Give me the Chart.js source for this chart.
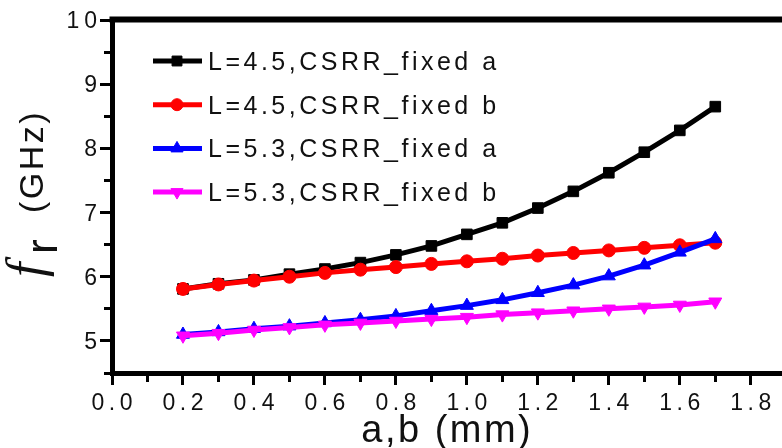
<!DOCTYPE html>
<html>
<head>
<meta charset="utf-8">
<title>fr vs a,b</title>
<script src="https://cdn.jsdelivr.net/npm/chart.js@4.4.0/dist/chart.umd.min.js"></script>
<style>
  html, body { margin: 0; padding: 0; background: #fff; }
  #wrap { width: 782px; height: 448px; }
</style>
</head>
<body>
<div id="wrap"><canvas id="fr-chart" width="782" height="448"></canvas></div>
<script>
// a or b (mm)
const abValues = [0.2, 0.3, 0.4, 0.5, 0.6, 0.7, 0.8, 0.9, 1.0, 1.1, 1.2, 1.3, 1.4, 1.5, 1.6, 1.7];

// resonance frequency (GHz)
const l45FixedA = [5.81, 5.89, 5.95, 6.04, 6.12, 6.22, 6.34, 6.48, 6.66, 6.84, 7.07, 7.33, 7.62, 7.94, 8.28, 8.65];
const l45FixedB = [5.81, 5.88, 5.94, 6.00, 6.06, 6.11, 6.15, 6.20, 6.24, 6.28, 6.33, 6.37, 6.41, 6.45, 6.49, 6.53];
const l53FixedA = [5.10, 5.14, 5.19, 5.23, 5.28, 5.33, 5.39, 5.47, 5.55, 5.64, 5.75, 5.87, 6.01, 6.18, 6.38, 6.59];
const l53FixedB = [5.08, 5.12, 5.17, 5.21, 5.25, 5.28, 5.31, 5.34, 5.37, 5.41, 5.44, 5.47, 5.50, 5.53, 5.56, 5.61];

const seriesLabels = ['L=4.5,CSRR_fixed a', 'L=4.5,CSRR_fixed b', 'L=5.3,CSRR_fixed a', 'L=5.3,CSRR_fixed b'];
const xTickLabels = ['0.0', '0.2', '0.4', '0.6', '0.8', '1.0', '1.2', '1.4', '1.6', '1.8'];
const yTickLabels = ['5', '6', '7', '8', '9', '10'];

const SANS = '"Liberation Sans", Arial, sans-serif';

function toPoints(values) {
    return abValues.map((x, i) => ({ x: x, y: values[i] }));
}

// draw text char by char with extra spacing
function drawSpaced(ctx, text, x, y, align, spacing) {
    const chars = [...text];
    const widths = chars.map(ch => ctx.measureText(ch).width);
    const total = widths.reduce((s, w) => s + w, 0) + spacing * (chars.length - 1);
    let cx = x;
    if (align === 'right') cx = x - total;
    if (align === 'center') cx = x - total / 2;
    ctx.textAlign = 'left';
    chars.forEach((ch, i) => {
        ctx.fillText(ch, cx, y);
        cx += widths[i] + spacing;
    });
}

function isMinor(value, step) {
    const n = Math.round(value / step);
    return n % 2 !== 0;
}

const decorations = {
    id: 'decorations',
    afterDraw(chart) {
        const ctx = chart.ctx;
        const area = chart.chartArea;
        const xs = chart.scales.x;
        const ys = chart.scales.y;

        ctx.save();

        // top frame line
        ctx.strokeStyle = '#000';
        ctx.lineWidth = 6;
        ctx.beginPath();
        ctx.moveTo(area.left - 2.5, area.top - 0.5);
        ctx.lineTo(area.right, area.top - 0.5);
        ctx.stroke();

        // tick labels
        ctx.fillStyle = '#111';
        ctx.font = '23px ' + SANS;
        ctx.textBaseline = 'alphabetic';
        xTickLabels.forEach(lbl => {
            drawSpaced(ctx, lbl, xs.getPixelForValue(parseFloat(lbl)), 410, 'center', 4.5);
        });
        yTickLabels.forEach(lbl => {
            drawSpaced(ctx, lbl, 97, ys.getPixelForValue(parseFloat(lbl)) + 8, 'right', 5);
        });

        // x title
        ctx.font = '38px ' + SANS;
        drawSpaced(ctx, 'a,b (mm)', 446, 442, 'center', 2.5);

        // y title, rotated
        ctx.save();
        ctx.translate(43, 283);
        ctx.rotate(-Math.PI / 2);
        ctx.font = 'italic 52px "Liberation Serif", "Times New Roman", serif';
        ctx.textAlign = 'left';
        ctx.fillText('f', 6, 0);
        ctx.font = '44px ' + SANS;
        ctx.fillText('r', 29, 14);
        ctx.font = '34px ' + SANS;
        drawSpaced(ctx, '(GHz)', 70, 0, 'left', 2.5);
        ctx.restore();

        // legend inside plot
        chart.data.datasets.forEach((ds, i) => {
            const y = 61 + i * 43.7;
            ctx.strokeStyle = ds.borderColor;
            ctx.fillStyle = ds.borderColor;
            ctx.lineWidth = 5;
            ctx.beginPath();
            ctx.moveTo(153, y);
            ctx.lineTo(202, y);
            ctx.stroke();
            ctx.lineWidth = 1;
            Chart.helpers.drawPoint(ctx, {
                pointStyle: ds.pointStyle,
                radius: ds.pointRadius - 0.5,
                rotation: ds.pointRotation || 0,
                borderWidth: 1
            }, 177, y);
            ctx.fillStyle = '#111';
            ctx.font = '25px ' + SANS;
            ctx.textBaseline = 'alphabetic';
            drawSpaced(ctx, ds.label, 208, y + 9, 'left', 3.5);
        });

        ctx.restore();
    }
};

new Chart(document.getElementById('fr-chart'), {
    type: 'line',
    data: {
        datasets: [
            {
                label: seriesLabels[0],
                data: toPoints(l45FixedA),
                borderColor: '#000000',
                backgroundColor: '#000000',
                borderWidth: 5,
                pointStyle: 'rect',
                pointRadius: 7.5,
                pointBorderWidth: 1,
                order: 4
            },
            {
                label: seriesLabels[1],
                data: toPoints(l45FixedB),
                borderColor: '#ff0000',
                backgroundColor: '#ff0000',
                borderWidth: 5,
                pointStyle: 'circle',
                pointRadius: 6.5,
                pointBorderWidth: 1,
                order: 3
            },
            {
                label: seriesLabels[2],
                data: toPoints(l53FixedA),
                borderColor: '#0000ff',
                backgroundColor: '#0000ff',
                borderWidth: 5,
                pointStyle: 'triangle',
                pointRadius: 7.5,
                pointBorderWidth: 1,
                order: 2
            },
            {
                label: seriesLabels[3],
                data: toPoints(l53FixedB),
                borderColor: '#ff00ff',
                backgroundColor: '#ff00ff',
                borderWidth: 5,
                pointStyle: 'triangle',
                pointRotation: 180,
                pointRadius: 7.5,
                pointBorderWidth: 1,
                order: 1
            }
        ]
    },
    options: {
        responsive: false,
        animation: false,
        layout: { autoPadding: false, padding: { top: 20, right: 0, bottom: 0, left: 0 } },
        plugins: {
            legend: { display: false },
            tooltip: { enabled: false }
        },
        scales: {
            x: {
                type: 'linear',
                min: 0,
                max: 1.888,
                afterFit: scale => { scale.height = 75; },
                ticks: { display: false, stepSize: 0.1, includeBounds: false },
                border: { display: true, color: '#000', width: 5 },
                grid: {
                    drawOnChartArea: false,
                    drawTicks: true,
                    tickLength: 12,
                    tickWidth: 3,
                    tickColor: '#000',
                    tickBorderDash: c => isMinor(c.tick.value, 0.1) ? [6, 100] : []
                }
            },
            y: {
                type: 'linear',
                min: 4.5,
                max: 10,
                afterFit: scale => { scale.width = 112; },
                ticks: { display: false, stepSize: 0.5, includeBounds: false },
                border: { display: true, color: '#000', width: 5 },
                grid: {
                    drawOnChartArea: false,
                    drawTicks: true,
                    tickLength: 12,
                    tickWidth: 3,
                    tickColor: '#000',
                    tickBorderDash: c => isMinor(c.tick.value, 0.5) ? [0, 4, 10, 100] : []
                }
            }
        }
    },
    plugins: [decorations]
});
</script>
</body>
</html>
